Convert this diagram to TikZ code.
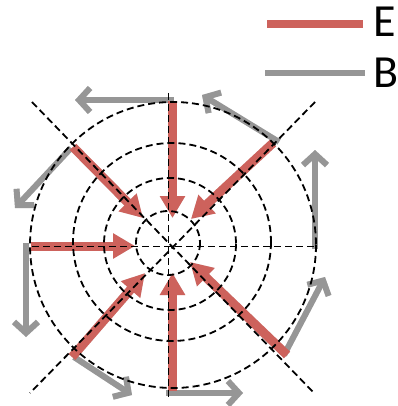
\documentclass[tikz,border=0pt]{standalone}
\usepackage{fontspec}
\setmainfont{Carlito}
\usetikzlibrary{arrows.meta}
\definecolor{ered}{RGB}{205,98,92}
\definecolor{bgray}{RGB}{150,150,150}
\begin{document}
\begin{tikzpicture}[x=1pt,y=-1pt,
  guide/.style={black,line width=1.8pt,dash pattern=on 7pt off 4pt},
  efield/.style={ered,line width=9pt,-{Triangle[length=22pt,width=24pt]}},
  bfield/.style={bgray,line width=6pt,-{Straight Barb[length=11pt,width=24pt]}},
  shade/.style={draw=black,opacity=0.12,shift={(2,3)}},
  legtext/.style={font=\fontsize{46}{46}\selectfont,anchor=base west,inner sep=0pt}]
\useasboundingbox (0,0) rectangle (397,406);
% B field (gray, tangential)
\coordinate (bt0) at (174,100); \coordinate (bt1) at (75,100);
\coordinate (bnw0) at (71,148); \coordinate (bnw1) at (15,208);
\coordinate (bl0) at (26,243); \coordinate (bl1) at (26,337);
\coordinate (bsw0) at (74,357); \coordinate (bsw1) at (132,395);
\coordinate (bb0) at (166,393); \coordinate (bb1) at (243,393);
\coordinate (bse0) at (284,355); \coordinate (bse1) at (325,277);
\coordinate (br0) at (315,249); \coordinate (br1) at (315,150);
\coordinate (bne0) at (279,142); \coordinate (bne1) at (202,95);
% E field (red, radial inward)
\coordinate (et0) at (172.5,101); \coordinate (et1) at (172.5,218);
\coordinate (enw0) at (73,147); \coordinate (enw1) at (143,218);
\coordinate (el0) at (31,246); \coordinate (el1) at (135,246);
\coordinate (esw0) at (72,357); \coordinate (esw1) at (145,273);
\coordinate (eb0) at (172.5,391); \coordinate (eb1) at (172.5,273);
\coordinate (ese0) at (287,355); \coordinate (ese1) at (190,262);
\coordinate (ene0) at (273,143); \coordinate (ene1) at (191,219);
% shadows
\foreach \p in {t,nw,l,sw,b,se,r,ne} \draw[bfield,shade] (b\p0) -- (b\p1);
\foreach \p in {t,nw,l,sw,b,se,ne} \draw[efield,shade,fill=black] (e\p0) -- (e\p1);
% arrows
\foreach \p in {t,nw,l,sw,b,se,r,ne} \draw[bfield] (b\p0) -- (b\p1);
\foreach \p in {t,nw,l,sw,b,se,ne} \draw[efield] (e\p0) -- (e\p1);
% guide lines
\coordinate (h0) at (32,246.5); \coordinate (h1) at (315,246.5);
\coordinate (v0) at (168.5,93); \coordinate (v1) at (168.5,397);
\coordinate (d0) at (32,102); \coordinate (d1) at (314,393);
\coordinate (e0) at (315,102); \coordinate (e1) at (30,393);
\draw[guide] (h0) -- (h1);
\draw[guide] (v0) -- (v1);
\draw[guide] (d0) -- (d1);
\draw[guide] (e0) -- (e1);
\draw[guide] (168,243) circle (32);
\draw[guide] (170,244) circle (66);
\draw[guide] (172,242) circle (99);
\draw[guide] (173,245) circle (143);
% legend
\coordinate (le0) at (267,24); \coordinate (le1) at (363,24);
\coordinate (lb0) at (265,73); \coordinate (lb1) at (365,73);
\draw[shade,line width=8pt] (le0) -- (le1);
\draw[shade,line width=6pt] (lb0) -- (lb1);
\draw[ered,line width=8pt] (le0) -- (le1);
\draw[bgray,line width=6pt] (lb0) -- (lb1);
\node[legtext] (lE) at (373,37) {E};
\node[legtext] (lB) at (373,88) {B};
\end{tikzpicture}
\end{document}
